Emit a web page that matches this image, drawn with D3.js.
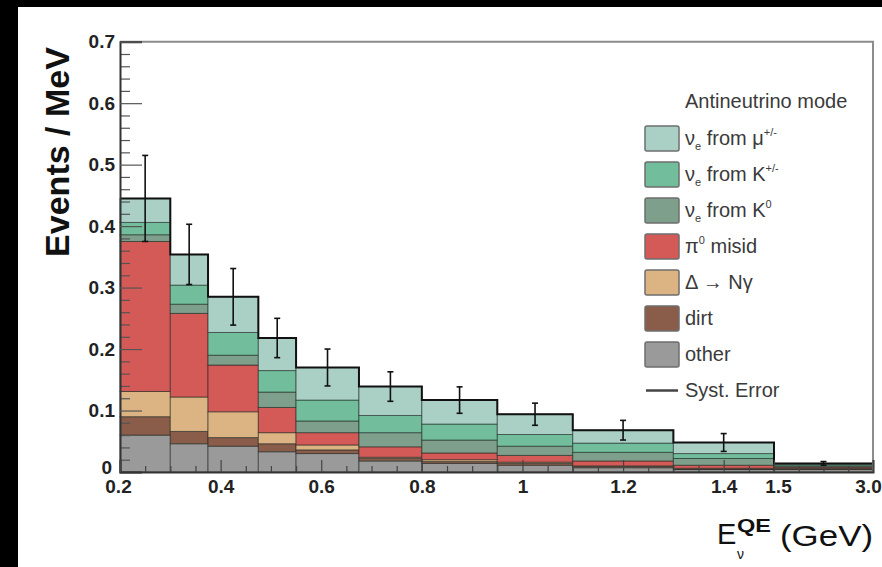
<!DOCTYPE html>
<html><head><meta charset="utf-8">
<script src="https://cdn.jsdelivr.net/npm/d3@7"></script>
<style>
html,body{margin:0;padding:0;background:#000;}
svg{display:block;}
text{font-family:"Liberation Sans",Arial,Helvetica,sans-serif;}
</style>
</head><body>
<svg id="chart" width="882" height="567"></svg>
<script>
// Reconstructed-energy bin edges (GeV); the last bin is an overflow bin shown compressed
const binEdges = [0.2, 0.3, 0.375, 0.475, 0.55, 0.675, 0.8, 0.95, 1.1, 1.3, 1.5, 3.0];

// Predicted background per bin (events / MeV), stacked bottom to top
const other       = [0.060, 0.046, 0.042, 0.033, 0.030, 0.018, 0.014, 0.011, 0.007, 0.004, 0.004];
const dirt        = [0.030, 0.020, 0.014, 0.013, 0.006, 0.004, 0.003, 0.003, 0.002, 0.001, 0.001];
const deltaNgamma = [0.041, 0.056, 0.042, 0.018, 0.008, 0.002, 0.003, 0.002, 0.001, 0.001, 0.001];
const pi0Misid    = [0.244, 0.136, 0.076, 0.041, 0.020, 0.017, 0.011, 0.011, 0.008, 0.005, 0.002];
const nueK0       = [0.011, 0.015, 0.016, 0.025, 0.019, 0.023, 0.021, 0.015, 0.014, 0.011, 0.002];
const nueKpm      = [0.020, 0.031, 0.037, 0.035, 0.034, 0.028, 0.026, 0.019, 0.015, 0.008, 0.002];
const nueMu       = [0.039, 0.050, 0.058, 0.053, 0.053, 0.047, 0.039, 0.033, 0.021, 0.018, 0.002];

// Half-width of the systematic error on the total prediction
const systError   = [0.070, 0.049, 0.046, 0.032, 0.030, 0.024, 0.0215, 0.018, 0.016, 0.0145, 0.003];

// Axis ticks
const yTickValues = [0, 0.1, 0.2, 0.3, 0.4, 0.5, 0.6, 0.7];
const yTickLabels = ["0", "0.1", "0.2", "0.3", "0.4", "0.5", "0.6", "0.7"];
const xTickValues = [0.2, 0.4, 0.6, 0.8, 1.0, 1.2, 1.4, 1.5, 3.0];
const xTickLabels = ["0.2", "0.4", "0.6", "0.8", "1", "1.2", "1.4", "1.5", "3.0"];

const seriesKeys = ["other", "dirt", "deltaNgamma", "pi0Misid", "nueK0", "nueKpm", "nueMu"];
const seriesData = {other, dirt, deltaNgamma, pi0Misid, nueK0, nueKpm, nueMu};
const fills = {
  other: "#9a9a9a", dirt: "#8a5d4a", deltaNgamma: "#dcb483", pi0Misid: "#d45a58",
  nueK0: "#7d9f8b", nueKpm: "#72bd9b", nueMu: "#aad0c6"
};

const svg = d3.select("#chart");
svg.append("rect").attr("x", 18).attr("y", 7).attr("width", 864).attr("height", 560).attr("fill", "#fff");

const x = d3.scaleLinear().domain([0.2, 1.5, 3.0]).range([120, 774, 873]);
const y = d3.scaleLinear().domain([0, 0.7]).range([472, 41.7]);

// table of bins for the stack
const table = binEdges.slice(0, -1).map((lo, i) => {
  const row = {lo, hi: binEdges[i + 1]};
  seriesKeys.forEach(k => row[k] = seriesData[k][i]);
  return row;
});
const stacked = d3.stack().keys(seriesKeys)(table);
const totals = table.map(r => d3.sum(seriesKeys, k => r[k]));

const plot = svg.append("g");
stacked.forEach(layer => {
  plot.append("g").selectAll("rect").data(layer).join("rect")
    .attr("x", d => x(d.data.lo))
    .attr("width", d => x(d.data.hi) - x(d.data.lo))
    .attr("y", d => y(d[1]))
    .attr("height", d => Math.max(0, y(d[0]) - y(d[1])))
    .attr("fill", fills[layer.key])
    .attr("stroke", "rgba(20,30,25,0.55)")
    .attr("stroke-width", 1);
});

// outline of the total prediction
const outlinePts = [];
table.forEach((r, i) => { outlinePts.push([x(r.lo), y(totals[i])]); outlinePts.push([x(r.hi), y(totals[i])]); });
outlinePts.push([x(3.0), y(0)]);
plot.append("path").attr("d", d3.line()(outlinePts))
  .attr("fill", "none").attr("stroke", "#111").attr("stroke-width", 2);

// systematic error bars
const errG = plot.append("g").attr("stroke", "#111").attr("stroke-width", 1.6);
table.forEach((r, i) => {
  const cx = x((r.lo + r.hi) / 2);
  const y1 = y(totals[i] + systError[i]), y0 = y(totals[i] - systError[i]);
  errG.append("line").attr("x1", cx).attr("x2", cx).attr("y1", y1).attr("y2", y0);
  errG.append("line").attr("x1", cx - 3).attr("x2", cx + 3).attr("y1", y1).attr("y2", y1);
  errG.append("line").attr("x1", cx - 3).attr("x2", cx + 3).attr("y1", y0).attr("y2", y0);
});

// frame (top and right)
svg.append("path").attr("d", d3.line()([[x(0.2), y(0.7)], [x(3.0), y(0.7)], [x(3.0), y(0)]]))
  .attr("fill", "none").attr("stroke", "#8c8c8c").attr("stroke-width", 2);

// y axis
const yMinor = d3.range(0, 0.7001, 0.02).filter(v => Math.abs(v * 10 - Math.round(v * 10)) > 1e-6);
svg.append("g").attr("transform", `translate(${x(0.2)},0)`)
  .call(d3.axisLeft(y).tickValues(yMinor).tickSize(-10).tickFormat(""))
  .call(g => g.select(".domain").remove())
  .call(g => g.selectAll("line").attr("stroke", "#555").attr("stroke-width", 1.2));
const yAx = svg.append("g").attr("transform", `translate(${x(0.2)},0)`)
  .call(d3.axisLeft(y).tickValues(yTickValues).tickSize(-22).tickPadding(5)
    .tickFormat((d, i) => yTickLabels[i]));
yAx.select(".domain").attr("stroke", "#333").attr("stroke-width", 2);
yAx.selectAll("line").attr("stroke", "#555").attr("stroke-width", 1.2);
yAx.selectAll("text").attr("font-size", 19).attr("font-weight", "bold").attr("fill", "#222")
  .attr("font-family", "'Liberation Sans',Arial,sans-serif");
yAx.selectAll(".tick").filter(d => d === 0).select("text").attr("dy", "0.1em").attr("x", -8);

// x axis
const xMinor = d3.range(0.25, 1.4999, 0.05).filter(v => Math.abs(v * 5 - Math.round(v * 5)) > 1e-6)
  .concat([1.875, 2.25, 2.625]);
svg.append("g").attr("transform", `translate(0,${y(0)})`)
  .call(d3.axisBottom(x).tickValues(xMinor).tickSize(-6).tickFormat(""))
  .call(g => g.select(".domain").remove())
  .call(g => g.selectAll("line").attr("stroke", "#444").attr("stroke-width", 1.2));
const xAx = svg.append("g").attr("transform", `translate(0,${y(0)})`)
  .call(d3.axisBottom(x).tickValues(xTickValues).tickSize(-12).tickPadding(8)
    .tickFormat((d, i) => xTickLabels[i]));
xAx.select(".domain").attr("stroke", "#333").attr("stroke-width", 2);
xAx.selectAll("line").attr("stroke", "#444").attr("stroke-width", 1.2);
xAx.selectAll("text").attr("font-size", 19).attr("font-weight", "bold").attr("fill", "#222")
  .attr("font-family", "'Liberation Sans',Arial,sans-serif");
xAx.selectAll(".tick").filter(d => d === 0.2).select("text").attr("dx", -2);
xAx.selectAll(".tick").filter(d => d === 1.5).select("text").attr("dx", 4);
xAx.selectAll(".tick").filter(d => d === 3.0).select("text").attr("dx", -5);

// axis titles
svg.append("text").attr("transform", "translate(69,152) rotate(-90)")
  .attr("text-anchor", "middle").attr("font-size", 34).attr("font-weight", "bold").attr("fill", "#111")
  .text("Events / MeV");

const xt = svg.append("g").attr("fill", "#111");
xt.append("text").attr("x", 717).attr("y", 544).attr("font-size", 29).text("E");
xt.append("text").attr("x", 737).attr("y", 532).attr("font-size", 19).attr("font-weight", "bold")
  .attr("textLength", 34).attr("lengthAdjust", "spacingAndGlyphs").text("QE");
xt.append("text").attr("x", 737).attr("y", 559).attr("font-size", 14).text("ν");
xt.append("text").attr("x", 873).attr("y", 546).attr("text-anchor", "end").attr("font-size", 30)
  .attr("textLength", 93).attr("lengthAdjust", "spacingAndGlyphs").text("(GeV)");

// legend
const leg = svg.append("g").attr("fill", "#3a3a3a");
leg.append("text").attr("x", 685).attr("y", 108).attr("font-size", 20).text("Antineutrino mode");
const legendOrder = ["nueMu", "nueKpm", "nueK0", "pi0Misid", "deltaNgamma", "dirt", "other"];
const legendParts = {
  nueMu: [["ν", 0], ["e", 1], [" from μ", 0], ["+/-", -1]],
  nueKpm: [["ν", 0], ["e", 1], [" from K", 0], ["+/-", -1]],
  nueK0: [["ν", 0], ["e", 1], [" from K", 0], ["0", -1]],
  pi0Misid: [["π", 0], ["0", -1], [" misid", 0]],
  deltaNgamma: [["Δ → Nγ", 0]],
  dirt: [["dirt", 0]],
  other: [["other", 0]]
};
legendOrder.forEach((k, i) => {
  const top = 126 + i * 36;
  leg.append("rect").attr("x", 645).attr("y", top).attr("width", 34).attr("height", 25).attr("rx", 2)
    .attr("fill", fills[k]).attr("stroke", "#6e6e6e").attr("stroke-width", 1.5);
  const t = leg.append("text").attr("x", 685).attr("y", top + 19).attr("font-size", 20);
  let shift = 0;
  legendParts[k].forEach(([s, pos]) => {
    const target = pos === 1 ? 5 : pos === -1 ? -9 : 0;
    t.append("tspan").attr("dy", target - shift).attr("font-size", pos === 0 ? 20 : 11).text(s);
    shift = target;
  });
});
const sysTop = 126 + 7 * 36;
leg.append("line").attr("x1", 646).attr("x2", 678).attr("y1", sysTop + 12.5).attr("y2", sysTop + 12.5)
  .attr("stroke", "#444").attr("stroke-width", 2.5);
leg.append("text").attr("x", 685).attr("y", sysTop + 19).attr("font-size", 20).text("Syst. Error");
</script>
</body></html>
